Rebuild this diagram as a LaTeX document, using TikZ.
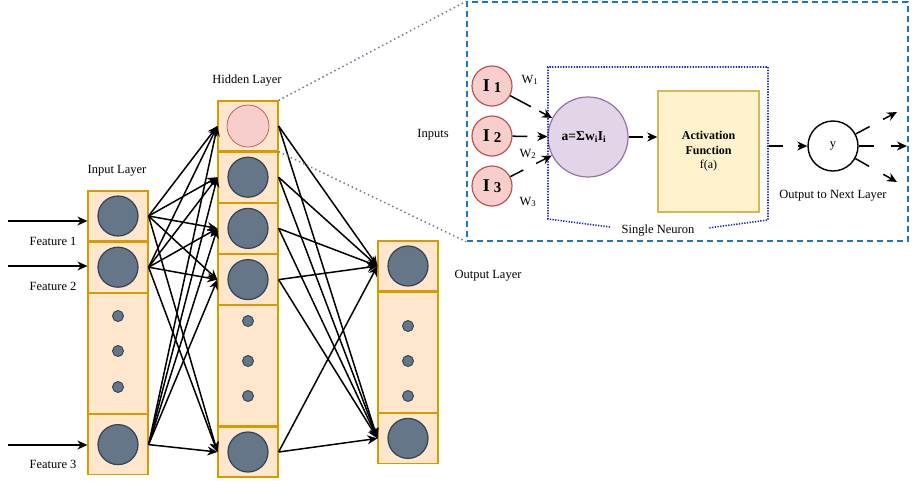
\documentclass[tikz,border=0pt]{standalone}
\usepackage{fontspec}
\setmainfont{Liberation Serif}
\usetikzlibrary{positioning,arrows.meta}
\definecolor{cellfill}{HTML}{FFE6CC}
\definecolor{cellline}{HTML}{D79B00}
\definecolor{unitfill}{HTML}{647687}
\definecolor{unitline}{HTML}{314354}
\definecolor{pinkfill}{HTML}{F8CECC}
\definecolor{pinkline}{HTML}{B85450}
\definecolor{sumfill}{HTML}{E1D5E7}
\definecolor{sumline}{HTML}{9673A6}
\definecolor{actfill}{HTML}{FFF2CC}
\definecolor{actline}{HTML}{D6B656}
\definecolor{zoomline}{HTML}{1F77B4}
\definecolor{neuronline}{HTML}{1A2FA8}
\definecolor{guideline}{HTML}{7A7A99}

\begin{document}
\begin{tikzpicture}[
  x=1pt, y=-1pt,
  >={Stealth[length=10pt,width=9pt]},
  every edge/.style={draw, ->, line width=1.5pt},
  lbl/.style={font=\fontsize{12.5}{15}\selectfont, inner sep=1pt},
  cell/.style={draw=cellline, fill=cellfill, line width=1.2pt,
               minimum width=60pt, minimum height=50pt, inner sep=0pt},
  tall/.style={minimum height=120pt},
  unit/.style={circle, draw=unitline, fill=unitfill, line width=1.2pt,
               minimum size=40pt, inner sep=0pt},
  dot/.style={circle, draw=unitline, fill=unitfill, line width=0.9pt,
              minimum size=11pt, inner sep=0pt},
  inp/.style={circle, draw=pinkline, fill=pinkfill, line width=1.2pt,
              minimum size=40pt, inner sep=0pt},
  wire/.style={line width=1.5pt},
  tip/.style={->, line width=1.5pt},
  zoombox/.style={draw=zoomline, line width=1.5pt, dash pattern=on 6pt off 4pt,
                  minimum width=441pt, minimum height=239pt, inner sep=0pt},
  guide/.style={draw=guideline, line width=1.5pt, dash pattern=on 1.5pt off 3pt},
]
  \useasboundingbox (0,0) rectangle (918,480);

  % Input layer
  \node[cell] (in1) at (118,216) {};
  \node[cell, below=0pt of in1] (in2) {};
  \node[cell, tall, below=0pt of in2] (inmid) {};
  \node[cell, minimum height=60pt, below=0pt of inmid] (in3) {};
  \node[unit] at (in1) {};
  \node[unit] at (in2) {};
  \node[unit] at (in3) {};
  \node[dot] at (118,316) {};
  \node[dot] at (118,351) {};
  \node[dot] at (118,387) {};

  % Hidden layer
  \node[cell] (h0) at (248,126) {};
  \node[cell, below=0pt of h0] (h1) {};
  \node[cell, below=0pt of h1] (h2) {};
  \node[cell, below=0pt of h2] (h3) {};
  \node[cell, tall, below=0pt of h3] (hmid) {};
  \node[cell, below=0pt of hmid] (h4) {};
  \node[inp, minimum size=42pt, line width=0.7pt] at (h0) {};
  \node[unit] at (h1) {};
  \node[unit] at (h2) {};
  \node[unit] at (h3) {};
  \node[unit] at (h4) {};
  \node[dot] at (248,321) {};
  \node[dot] at (248,361) {};
  \node[dot] at (248,396) {};

  % Output layer
  \node[cell] (out1) at (408,266) {};
  \node[cell, tall, below=0pt of out1] (outmid) {};
  \node[cell, below=0pt of outmid] (out2) {};
  \node[unit] at (out1) {};
  \node[unit] at (out2) {};
  \node[dot] at (408,326) {};
  \node[dot] at (408,361) {};
  \node[dot] at (408,396) {};

  % Layer labels
  \node[lbl] (inlbl) at (117,171) {Input Layer};
  \node[lbl] (hlbl) at (247,81) {Hidden Layer};
  \node[lbl] (outlbl) at (488,276) {Output Layer};
  \node[lbl] (f1lbl) at (53,241) {Feature 1};
  \node[lbl] (f2lbl) at (53,286) {Feature 2};
  \node[lbl] (f3lbl) at (53,464) {Feature 3};

  % Features
  \coordinate (f1) at (8,221);
  \coordinate (f2) at (8,266);
  \coordinate (f3) at (8,445);
  \path (f1) edge (f1 -| in1.west);
  \path (f2) edge (f2 -| in2.west);
  \path (f3) edge (f3 -| in3.west);

  % Input -> hidden
  \path (in1.east) edge (h0.west) edge (h1.west) edge (h2.west) edge (h3.west) edge (h4.west);
  \path (in2.east) edge (h0.west) edge (h1.west) edge (h2.west) edge (h3.west) edge (h4.west);
  \path (in3.east) edge (h0.west) edge (h1.west) edge (h2.west) edge (h3.west) edge (h4.west);

  % Hidden -> output
  \path (h0.east) edge (out1.west) edge (out2.west);
  \path (h1.east) edge (out1.west) edge (out2.west);
  \path (h2.east) edge (out1.west) edge (out2.west);
  \path (h3.east) edge (out1.west) edge (out2.west);
  \path (h4.east) edge (out1.west) edge (out2.west);

  % Zoomed neuron
  \node[zoombox] (zoom) at (687.5,121.5) {};
  \draw[guide] (h0.north east) -- (zoom.north west);
  \draw[guide] (h0.south east) -- (zoom.south west);

  \node[inp] (I1) at (492,86) {\fontsize{18}{18}\selectfont\textbf{I}\kern4pt\raisebox{-1.5pt}{\fontsize{15}{15}\selectfont\textbf{1}}};
  \node[inp] (I2) at (492,136) {\fontsize{18}{18}\selectfont\textbf{I}\kern4pt\raisebox{-1.5pt}{\fontsize{15}{15}\selectfont\textbf{2}}};
  \node[inp] (I3) at (492,186) {\fontsize{18}{18}\selectfont\textbf{I}\kern4pt\raisebox{-1.5pt}{\fontsize{15}{15}\selectfont\textbf{3}}};
  \node[lbl] (inputs) at (433,135) {Inputs};
  \node[lbl] (w1) at (530,80) {W\textsubscript{1}};
  \node[lbl] (w2) at (528,154) {W\textsubscript{2}};
  \node[lbl] (w3) at (528,202) {W\textsubscript{3}};

  \node[circle, draw=sumline, fill=sumfill, line width=1.2pt, minimum size=80pt, inner sep=0pt]
    (sum) at (588,137) {\hspace*{-8pt}\fontsize{13.5}{13.5}\selectfont\textbf{a=Σw\textsubscript{i}I\textsubscript{i}}};
  \node[draw=actline, fill=actfill, line width=1.4pt, minimum width=101pt, minimum height=121pt,
        align=center, font=\fontsize{12}{14.5}\selectfont]
    (act) at (708.5,151.5) {\textbf{Activation}\\\textbf{Function}\\f(a)};
  \node[circle, draw, line width=1.4pt, minimum size=50pt, inner sep=0pt, lbl]
    (y) at (833,146) {y};
  \node[lbl] (outnext) at (833,196) {Output to Next Layer};

  % Single neuron outline
  \draw[neuronline, line width=1.6pt, dash pattern=on 1.3pt off 1.4pt]
    (610,227) -- (548,219) -- (548,67) -- (768,67) -- (768,220) -- (708,228);
  \node[lbl] (single) at (658,231) {Single Neuron};

  % Weighted inputs
  \draw[wire, shorten >=24pt] (I1) -- (sum);
  \draw[tip, shorten <=33pt] (I1) -- (sum);
  \draw[wire, shorten >=20pt] (I2) -- (sum);
  \draw[tip, shorten <=25pt] (I2) -- (sum);
  \draw[wire, shorten >=32pt] (I3) -- (sum);
  \draw[tip, shorten <=29pt] (I3) -- (sum);

  % Sum -> activation -> y
  \draw[wire, shorten >=14pt] (sum) -- (sum -| act.west);
  \draw[tip, shorten <=19pt] (sum) -- (sum -| act.west);
  \draw[wire, shorten <=9pt, shorten >=24pt] (act.east |- y) -- (y);
  \draw[tip, shorten <=38pt] (act.east |- y) -- (y);

  % Outputs
  \coordinate (o1) at (897,112);
  \coordinate (o2) at (907,146);
  \coordinate (o3) at (897,182);
  \draw[wire, shorten >=31pt] (y) -- (o1);
  \draw[tip, shorten <=31pt] (y) -- (o1);
  \draw[wire, shorten >=33pt] (y) -- (o2);
  \draw[tip, shorten <=32pt] (y) -- (o2);
  \draw[wire, shorten >=32pt] (y) -- (o3);
  \draw[tip, shorten <=32pt] (y) -- (o3);
\end{tikzpicture}
\end{document}
